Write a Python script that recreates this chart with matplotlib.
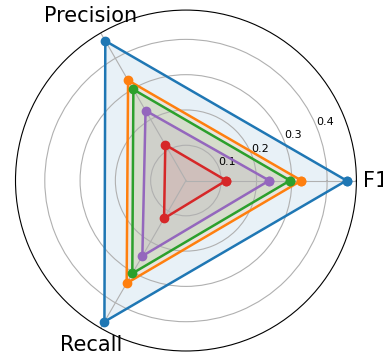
import numpy as np
import matplotlib
matplotlib.use("Agg")
import matplotlib.pyplot as plt

# ── Data ──────────────────────────────────────────────────────────────────
METRICS = ["F1", "Precision", "Recall"]

model_a = [0.455, 0.457, 0.462]   # blue
model_b = [0.327, 0.328, 0.336]   # orange
model_c = [0.295, 0.298, 0.304]   # green
model_d = [0.114, 0.117, 0.124]   # red
model_e = [0.236, 0.229, 0.247]   # purple

SERIES = [model_a, model_b, model_c, model_d, model_e]
COLOURS = ["#1f77b4", "#ff7f0e", "#2ca02c", "#d62728", "#9467bd"]


def main():
    n = len(METRICS)
    angles = np.linspace(0, 2 * np.pi, n, endpoint=False).tolist()
    angles += angles[:1]

    fig = plt.figure(figsize=(3.83, 3.54), dpi=100)
    ax = fig.add_axes([0.039, 0.0085, 0.893, 0.963], projection="polar")

    for vals, col in zip(SERIES, COLOURS):
        v = list(vals) + vals[:1]
        ax.plot(angles, v, color=col, lw=1.8, marker="o", markersize=6)
        ax.fill(angles, v, color=col, alpha=0.1)

    ax.set_xticks(angles[:-1])
    ax.set_xticklabels(METRICS, fontsize=15)
    ax.set_yticks([0.1, 0.2, 0.3, 0.4])
    ax.tick_params(axis="y", labelsize=8)
    ax.set_ylim(0, 0.483)

    fig.savefig("out.png", dpi=100)
    plt.close(fig)


if __name__ == "__main__":
    main()
